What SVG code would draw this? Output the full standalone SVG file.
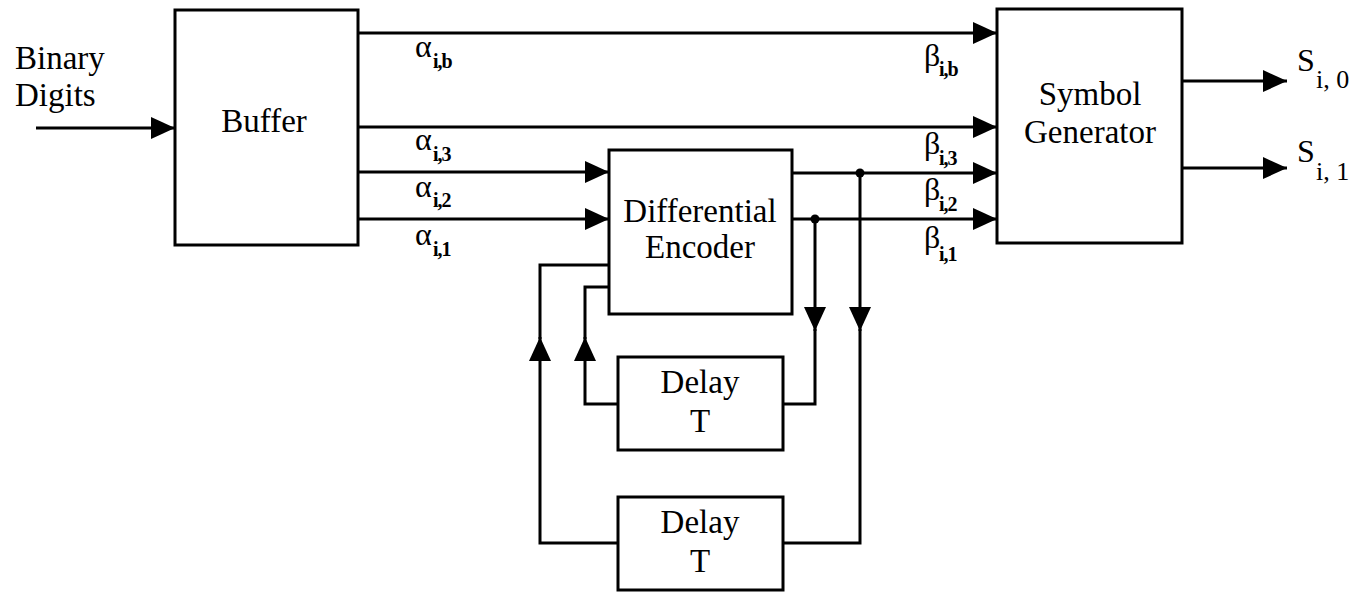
<svg xmlns="http://www.w3.org/2000/svg" width="1355" height="592" viewBox="0 0 1355 592">
<style>
.box{fill:#fff;stroke:#000;stroke-width:3}
.ln{fill:none;stroke:#000;stroke-width:3}
.arr{marker-end:url(#ah)}
.t{font-family:"Liberation Serif","Times New Roman",serif;font-size:33px;fill:#000;text-anchor:middle}
.tl{font-family:"Liberation Serif","Times New Roman",serif;font-size:33px;fill:#000}
.gk{font-family:"Liberation Serif","Times New Roman",serif;font-size:32px;fill:#000}
.sb{font-family:"Liberation Serif","Times New Roman",serif;font-size:20px;font-weight:bold;fill:#000;letter-spacing:-1px}
.ss{font-family:"Liberation Serif","Times New Roman",serif;font-size:26px;fill:#000}
.dot{fill:#000}
</style>
<defs>
<marker id="ah" markerUnits="userSpaceOnUse" markerWidth="24" markerHeight="22" viewBox="0 0 24 22" refX="24" refY="11" orient="auto">
<path d="M0,0 L24,11 L0,22 z" fill="#000"/>
</marker>
</defs>

<g id="input-label">
<text class="tl" x="15" y="69">Binary</text>
<text class="tl" x="15" y="106">Digits</text>
</g>

<g id="buffer">
<rect class="box" x="175" y="10" width="183" height="235"/>
<text class="t" x="264" y="132">Buffer</text>
</g>

<g id="differential-encoder">
<rect class="box" x="609" y="150" width="183" height="164"/>
<text class="t" x="700" y="222">Differential</text>
<text class="t" x="700" y="258">Encoder</text>
</g>

<g id="symbol-generator">
<rect class="box" x="997" y="9" width="185" height="234"/>
<text class="t" x="1090" y="105">Symbol</text>
<text class="t" x="1090" y="143">Generator</text>
</g>

<g id="delay-1">
<rect class="box" x="618" y="357" width="165" height="93"/>
<text class="t" x="700" y="393">Delay</text>
<text class="t" x="700" y="432">T</text>
</g>

<g id="delay-2">
<rect class="box" x="618" y="497" width="165" height="93"/>
<text class="t" x="700" y="533">Delay</text>
<text class="t" x="700" y="572">T</text>
</g>

<g id="connectors">
<path class="ln arr" d="M36,128 H175"/>
<path class="ln arr" d="M358,33 H997"/>
<path class="ln arr" d="M358,127 H997"/>
<path class="ln arr" d="M358,172 H609"/>
<path class="ln arr" d="M358,219 H609"/>
<path class="ln arr" d="M792,173 H997"/>
<path class="ln arr" d="M792,219 H997"/>
<path class="ln arr" d="M1182,81 H1287"/>
<path class="ln arr" d="M1182,168 H1287"/>
<path class="ln arr" d="M815,219 V331"/>
<path class="ln" d="M815,329 V404 H783"/>
<path class="ln arr" d="M860,173 V331"/>
<path class="ln" d="M860,329 V543 H783"/>
<path class="ln arr" d="M618,404 H585 V337"/>
<path class="ln" d="M585,339 V287 H609"/>
<path class="ln arr" d="M618,543 H540 V337"/>
<path class="ln" d="M540,339 V265 H609"/>
<circle class="dot" cx="860" cy="173" r="4.5"/>
<circle class="dot" cx="815" cy="219" r="4.5"/>
</g>

<g id="alpha-labels">
<text class="gk" x="415" y="57">α</text><text class="sb" x="433" y="68">i,b</text>
<text class="gk" x="415" y="150">α</text><text class="sb" x="433" y="161">i,3</text>
<text class="gk" x="415" y="197">α</text><text class="sb" x="433" y="207">i,2</text>
<text class="gk" x="415" y="245">α</text><text class="sb" x="433" y="256">i,1</text>
</g>

<g id="beta-labels">
<text class="gk" x="924" y="66">β</text><text class="sb" x="939" y="76">i,b</text>
<text class="gk" x="924" y="154">β</text><text class="sb" x="939" y="165">i,3</text>
<text class="gk" x="924" y="200">β</text><text class="sb" x="939" y="211">i,2</text>
<text class="gk" x="924" y="248">β</text><text class="sb" x="939" y="261">i,1</text>
</g>

<g id="output-labels">
<text class="gk" x="1297" y="71">S</text><text class="ss" x="1316" y="88">i, 0</text>
<text class="gk" x="1297" y="162">S</text><text class="ss" x="1316" y="180">i, 1</text>
</g>
</svg>
